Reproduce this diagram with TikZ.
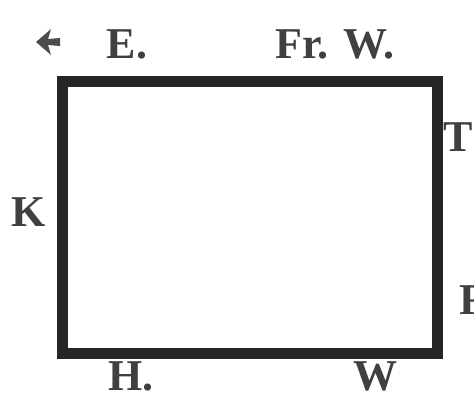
\documentclass[tikz,border=0pt]{standalone}
\usepackage{fontspec}
\setmainfont{Liberation Serif}
\begin{document}
\begin{tikzpicture}[x=1pt,y=-1pt,
    lbl/.style={font=\fontsize{44}{44}\selectfont\bfseries, text=black!75, inner sep=0pt}]
  \useasboundingbox (0,0) rectangle (474,399);
  % Frame
  \draw[line width=11pt, black!85, line join=miter] (62,81) rectangle (437,353);
  % Pointer mark
  \fill[black!70] (36,42) -- (51,29) -- (48,39) -- (60,38) -- (60,46) -- (48,45) -- (51,55) -- cycle;
  % Top labels
  \node[lbl] (east) at (127,44) {E.};
  \node[lbl] (frw) at (335,44) {Fr. W.};
  % Side labels
  \node[lbl] (tee) at (458,137) {T};
  \node[lbl] (kay) at (29,212) {K};
  \node[lbl, anchor=west] (eff) at (459,300) {F};
  % Bottom labels
  \node[lbl] (aitch) at (131,376) {H.};
  \node[lbl] (dbl) at (375,376) {W};
\end{tikzpicture}
\end{document}
